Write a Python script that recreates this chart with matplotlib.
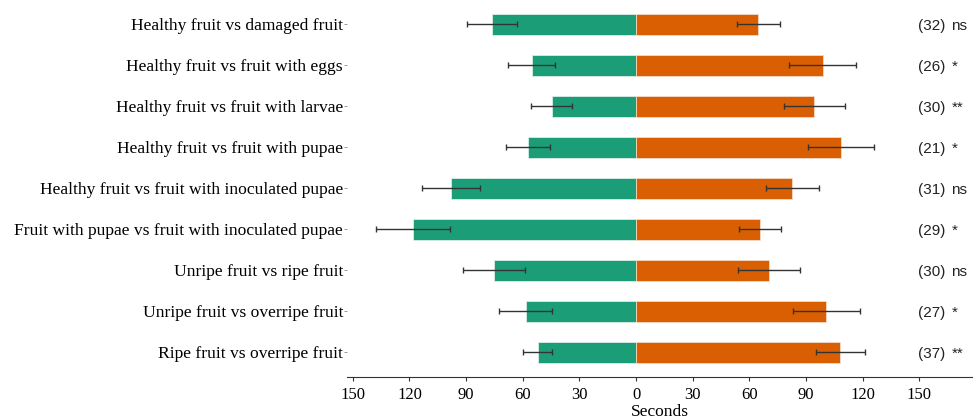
import matplotlib
matplotlib.use("Agg")
import matplotlib.pyplot as plt
import numpy as np

categories = [
    "Healthy fruit vs damaged fruit",
    "Healthy fruit vs fruit with eggs",
    "Healthy fruit vs fruit with larvae",
    "Healthy fruit vs fruit with pupae",
    "Healthy fruit vs fruit with inoculated pupae",
    "Fruit with pupae vs fruit with inoculated pupae",
    "Unripe fruit vs ripe fruit",
    "Unripe fruit vs overripe fruit",
    "Ripe fruit vs overripe fruit",
]
left_values = [76.3, 55.2, 44.6, 57.1, 98.0, 118.1, 75.3, 58.4, 52.0]
left_errors = [13.3, 12.4, 10.9, 11.6, 15.6, 19.6, 16.5, 14.1, 7.7]
right_values = [64.7, 98.8, 94.5, 108.6, 82.7, 65.6, 70.5, 100.7, 108.1]
right_errors = [11.3, 17.8, 16.1, 17.3, 14.1, 11.0, 16.4, 17.8, 13.0]
n_values = [32, 26, 30, 21, 31, 29, 30, 27, 37]
significance = ["ns", "*", "**", "*", "ns", "*", "ns", "*", "**"]
tick_values = [-150, -120, -90, -60, -30, 0, 30, 60, 90, 120, 150]

green = "#1b9e77"
orange = "#d95f02"

fig = plt.figure(figsize=(9.78, 4.19), dpi=100)
ax = fig.add_axes([0.355, 0.100, 0.639, 0.900])

y = np.arange(len(categories))
err_kw = dict(ecolor="#333333", elinewidth=1.0, capsize=2.5, capthick=1.0)
ax.barh(y, [-v for v in left_values], height=0.51, color=green,
        edgecolor="#e8f3ee", linewidth=0.5, xerr=left_errors, error_kw=err_kw)
ax.barh(y, right_values, height=0.51, color=orange,
        edgecolor="#f6e3d4", linewidth=0.5, xerr=right_errors, error_kw=err_kw)

for yi, n, s in zip(y, n_values, significance):
    ax.text(156.5, yi + 0.05, f"({n})", ha="center", va="center",
            fontsize=11, family="Liberation Sans", color="#222222")
    ax.text(167, yi + 0.05, s, ha="left", va="center",
            fontsize=11, family="Liberation Sans", color="#222222")

ax.set_xlim(-153, 178)
ax.set_ylim(8.61, -0.59)
ax.set_yticks(y)
ax.set_yticklabels(categories, family="Liberation Serif", fontsize=12.6)
ax.set_xticks(tick_values)
ax.set_xticklabels([str(abs(t)) for t in tick_values], family="Liberation Serif", fontsize=12)
ax.set_xlabel("Seconds", family="Liberation Serif", fontsize=12.5, labelpad=1)

for sp in ["top", "right", "left"]:
    ax.spines[sp].set_visible(False)
ax.spines["bottom"].set_color("#333333")
ax.tick_params(axis="y", length=2, width=0.6, color="#888888", pad=1)
ax.tick_params(axis="x", length=3, width=0.8, color="#333333", pad=4)

fig.savefig("out.png", dpi=100)
